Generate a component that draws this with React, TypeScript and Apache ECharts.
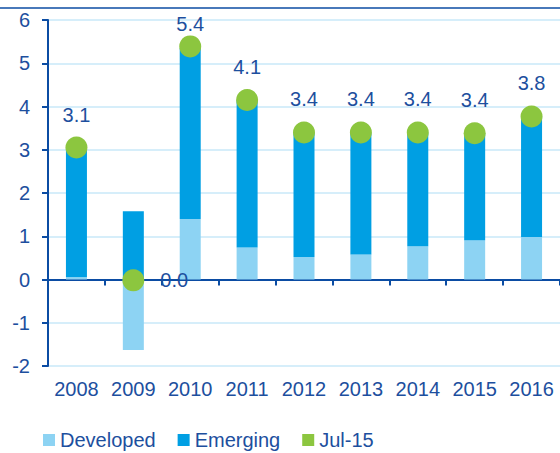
import React, { useEffect, useRef } from "react";
import * as echarts from "echarts";

const categories = ["2008", "2009", "2010", "2011", "2012", "2013", "2014", "2015", "2016"];
const developed = [0.05, -1.63, 1.4, 0.74, 0.52, 0.58, 0.77, 0.91, 0.98];
const emerging = [3.0, 1.58, 3.95, 3.41, 2.88, 2.82, 2.63, 2.47, 2.8];
const jul15 = [3.05, -0.02, 5.39, 4.15, 3.4, 3.4, 3.4, 3.38, 3.77];
const jul15Labels = ["3.1", "0.0", "5.4", "4.1", "3.4", "3.4", "3.4", "3.4", "3.8"];

const TEXT = "#1d4f9e";
const AXIS = "#0b4ca3";
const FONT = "Liberation Sans, Arial, sans-serif";

export default function App() {
  const ref = useRef<HTMLDivElement>(null);
  useEffect(() => {
    if (!ref.current) return;
    const chart = echarts.init(ref.current, undefined, { renderer: "svg" });
    chart.setOption({
      animation: false,
      textStyle: { fontFamily: FONT },
      grid: { left: 48, right: 0, top: 20, bottom: 87, containLabel: false },
      graphic: [
        {
          type: "line",
          z: -1,
          shape: { x1: 0, y1: 8, x2: 560, y2: 8 },
          style: { stroke: AXIS, lineWidth: 1.5 },
        },
      ],
      legend: {
        left: 38,
        top: 425,
        itemWidth: 12,
        itemHeight: 12,
        itemGap: 22,
        icon: "rect",
        textStyle: { color: TEXT, fontSize: 20, fontFamily: FONT },
        data: ["Developed", "Emerging", "Jul-15"],
      },
      xAxis: [
        {
          type: "category",
          data: categories,
          position: "bottom",
          axisLine: { onZero: true, lineStyle: { color: AXIS, width: 2 } },
          axisTick: { show: true, interval: 0, length: 6, lineStyle: { color: AXIS, width: 2 } },
          axisLabel: { show: false },
          splitLine: { show: false },
        },
        {
          type: "category",
          data: categories,
          position: "bottom",
          axisLine: { show: false, onZero: false },
          axisTick: { show: false },
          axisLabel: { interval: 0, color: TEXT, fontSize: 20, fontFamily: FONT, margin: 13 },
        },
      ],
      yAxis: {
        type: "value",
        min: -2,
        max: 6,
        interval: 1,
        axisLine: { show: true, lineStyle: { color: AXIS, width: 2 } },
        axisTick: { show: true, length: 6, lineStyle: { color: AXIS, width: 2 } },
        axisLabel: { color: TEXT, fontSize: 20, fontFamily: FONT, margin: 18 },
        splitLine: { show: true, lineStyle: { color: "#c9e9f8", width: 1.5 } },
      },
      series: [
        {
          name: "Developed",
          type: "bar",
          stack: "total",
          barWidth: 21,
          data: developed,
          itemStyle: { color: "#8dd3f3" },
        },
        {
          name: "Emerging",
          type: "bar",
          stack: "total",
          barWidth: 21,
          data: emerging,
          itemStyle: { color: "#009fe3" },
        },
        {
          name: "Jul-15",
          type: "scatter",
          symbolSize: 22,
          data: jul15.map((v, i) => ({
            value: v,
            label: i === 1
              ? { position: "right", distance: 16 }
              : i === 2
              ? { position: "top", distance: 1 }
              : { position: "top", distance: 12 },
          })),
          itemStyle: { color: "#8cc63f", opacity: 1 },
          label: {
            show: true,
            color: TEXT,
            fontSize: 20,
            fontFamily: FONT,
            formatter: (p: any) => jul15Labels[p.dataIndex],
          },
          z: 5,
        },
      ],
    });
    return () => chart.dispose();
  }, []);
  return (
    <div
      ref={ref}
      style={{ position: "fixed", left: 0, top: 0, width: 560, height: 453, background: "#fff" }}
    />
  );
}
